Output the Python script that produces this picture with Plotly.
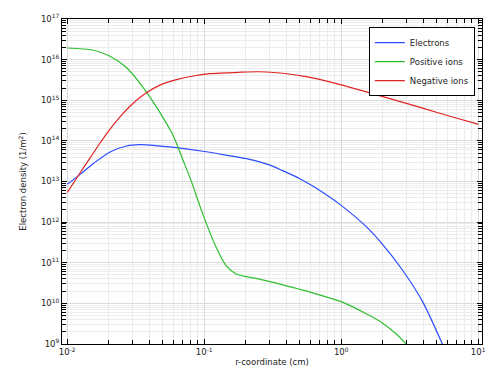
import plotly.graph_objects as go

# r-coordinate (cm) and densities (1/m^2)
r_pos = [0.01, 0.01553, 0.02055, 0.02718, 0.03589, 0.04746, 0.05931, 0.07012, 0.08069, 0.09802,
         0.1227, 0.145, 0.1714, 0.2533, 0.3742, 0.6546, 1.022, 1.512, 1.997, 2.499, 2.954, 3.494]
n_pos = [1.93e16, 1.70e16, 1.21e16, 6.3e15, 2.05e15, 5.04e14, 1.36e14, 3.35e13, 9.93e12, 1.53e12,
         2.35e11, 8.41e10, 5.28e10, 3.95e10, 2.85e10, 1.72e10, 1.07e10, 5.61e9, 3.31e9, 1.82e9,
         1.04e9, 5.4e8]

r_el = [0.01, 0.01243, 0.01553, 0.02055, 0.02718, 0.03396, 0.04243, 0.06279, 0.09802, 0.145,
        0.2142, 0.2995, 0.3742, 0.4948, 0.6546, 1.022, 1.512, 1.997, 2.792, 3.902, 5.454, 6.67]
n_el = [8.53e12, 1.50e13, 2.77e13, 5.35e13, 7.48e13, 8.04e13, 7.78e13, 6.80e13, 5.55e13, 4.44e13,
        3.51e13, 2.56e13, 1.85e13, 1.19e13, 6.89e12, 2.44e12, 7.94e11, 2.89e11, 6.73e10, 1.15e10,
        1.04e9, 2.2e8]

r_neg = [0.01, 0.01243, 0.0147, 0.01738, 0.02055, 0.02429, 0.02872, 0.03692, 0.04746, 0.06279,
         0.08288, 0.1096, 0.1812, 0.2533, 0.3742, 0.5536, 0.967, 1.689, 2.954, 5.162, 9.8, 10.0]
n_neg = [5.35e12, 1.64e13, 3.81e13, 8.85e13, 1.95e14, 3.91e14, 7.10e14, 1.44e15, 2.36e15, 3.21e15,
         3.95e15, 4.5e15, 4.89e15, 5.03e15, 4.62e15, 3.80e15, 2.47e15, 1.46e15, 8.49e14, 4.84e14,
         2.61e14, 2.55e14]

x_tick_exp = [-2, -1, 0, 1]
y_tick_exp = [9, 10, 11, 12, 13, 14, 15, 16, 17]

FONT = "DejaVu Sans"

x_major = [10.0 ** e for e in x_tick_exp]
x_minor = [m * 10.0 ** e for e in range(-3, 2) for m in range(2, 10)]
y_major = [10.0 ** e for e in y_tick_exp]
y_minor = [m * 10.0 ** e for e in range(8, 17) for m in range(2, 10)]

fig = go.Figure()
fig.add_trace(go.Scatter(x=r_el, y=n_el, mode="lines", name="Electrons",
                         line=dict(color="#2b4cff", width=1.2, shape="spline", smoothing=0.8)))
fig.add_trace(go.Scatter(x=r_pos, y=n_pos, mode="lines", name="Positive ions",
                         line=dict(color="#2fbf2f", width=1.2, shape="spline", smoothing=0.8)))
fig.add_trace(go.Scatter(x=r_neg, y=n_neg, mode="lines", name="Negative ions",
                         line=dict(color="#e02424", width=1.2, shape="spline", smoothing=0.8)))

axis_common = dict(
    type="log", showline=True, linecolor="black", linewidth=1, mirror="allticks",
    ticks="inside", ticklen=5, tickcolor="black", showgrid=True, gridcolor="#dcdcdc",
    gridwidth=1, zeroline=False, tickfont=dict(family=FONT, size=8.5, color="#222"),
)

fig.update_xaxes(
    **axis_common,
    range=[-2.038, 1.028],
    tickmode="array", tickvals=x_major,
    ticktext=[f"10<sup>{e}</sup>" for e in x_tick_exp],
    minor=dict(tickmode="array", tickvals=x_minor, ticks="inside", ticklen=4,
               tickcolor="black", showgrid=True, gridcolor="#ececec"),
    title=dict(text="r-coordinate (cm)", font=dict(family=FONT, size=8.5, color="#222"), standoff=2),
)
fig.update_yaxes(
    **axis_common,
    range=[9, 17],
    tickmode="array", tickvals=y_major,
    ticktext=[f"10<sup>{e}</sup>" for e in y_tick_exp],
    minor=dict(tickmode="array", tickvals=y_minor, ticks="inside", ticklen=4,
               tickcolor="black", showgrid=True, gridcolor="#ececec"),
    title=dict(text="Electron density (1/m<sup>2</sup>)", font=dict(family=FONT, size=8.5, color="#222"),
               standoff=12),
)

fig.update_layout(
    width=498, height=378,
    margin=dict(l=62, r=15, t=16, b=34),
    paper_bgcolor="white", plot_bgcolor="white",
    font=dict(family=FONT, size=8.5, color="#222"),
    showlegend=True,
    legend=dict(x=0.983, xanchor="right", y=0.975, yanchor="top",
                bgcolor="white", bordercolor="black", borderwidth=1,
                font=dict(family=FONT, size=8.5, color="#222"), itemwidth=30,
                tracegroupgap=0),
)

fig.write_html(
    "out.html",
    config={"displayModeBar": False},
    post_script="document.body.style.margin='0';document.body.style.overflow='hidden';",
)
